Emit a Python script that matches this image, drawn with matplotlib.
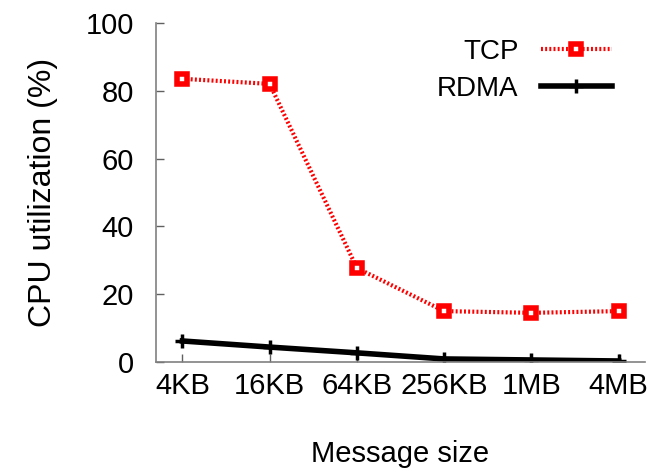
import matplotlib
matplotlib.use('Agg')
import matplotlib.pyplot as plt

sizes = ['4KB', '16KB', '64KB', '256KB', '1MB', '4MB']
tcp_util = [83.5, 82.0, 27.7, 15.0, 14.5, 15.0]
rdma_util = [6.2, 4.4, 2.7, 0.9, 0.6, 0.3]

plt.rcParams['font.family'] = ['Liberation Sans', 'DejaVu Sans']
plt.rcParams['font.size'] = 20
plt.rcParams['lines.scale_dashes'] = False

fig = plt.figure(figsize=(6.62, 4.76), dpi=100)
ax = fig.add_axes([0.236, 0.2395, 0.738, 0.7125])

x = list(range(len(sizes)))
ax.plot(x, tcp_util, color='red', linestyle=(0, (1.4, 1.6)), linewidth=3,
        marker='s', markersize=7.5, markerfacecolor='white',
        markeredgecolor='red', markeredgewidth=4, label='TCP')
ax.plot(x, rdma_util, color='black', linestyle='-', linewidth=4,
        marker='+', markersize=10, markeredgewidth=2.5, label='RDMA')

ax.set_xlim(-0.3, 5.3)
ax.set_ylim(0, 100)
ax.set_xticks(x)
ax.set_xticklabels(sizes)
ax.set_yticks([0, 20, 40, 60, 80, 100])
ax.tick_params(direction='in', length=6, width=1, color='#606060', labelsize=21)
ax.tick_params(axis='x', pad=7)
ax.tick_params(axis='y', pad=16)

for side in ['top', 'right']:
    ax.spines[side].set_visible(False)
for side in ['left', 'bottom']:
    ax.spines[side].set_color('#808080')
    ax.spines[side].set_linewidth(1.2)

ax.set_xlabel('Message size', fontsize=21, labelpad=29)
ax.set_ylabel('CPU utilization (%)', fontsize=23, labelpad=20)

ax.legend(loc='upper right', frameon=False, markerfirst=False,
          handlelength=2.55, handletextpad=0.8, borderaxespad=0.0,
          labelspacing=0.4, bbox_to_anchor=(0.955, 0.985))

fig.savefig('out.png', dpi=100)
